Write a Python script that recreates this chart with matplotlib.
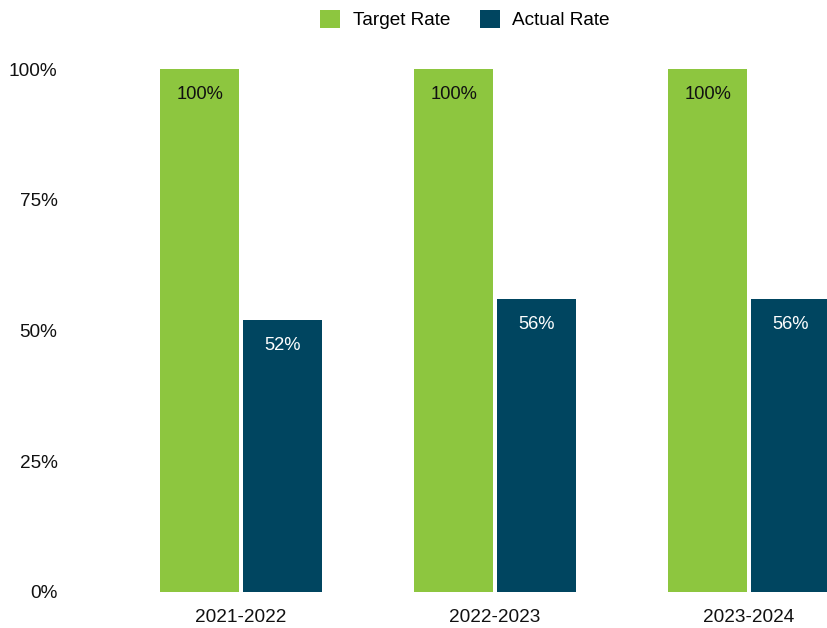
import matplotlib
matplotlib.use("Agg")
import matplotlib.pyplot as plt
import numpy as np

plt.rcParams['font.family'] = ['Liberation Sans', 'DejaVu Sans']

categories = ["2021-2022", "2022-2023", "2023-2024"]
target_rate = [100, 100, 100]
actual_rate = [52, 56, 56]
y_ticks = [0, 25, 50, 75, 100]
y_tick_labels = ["0%", "25%", "50%", "75%", "100%"]

green = "#8DC63F"
navy = "#004560"

fig = plt.figure(figsize=(8.27, 6.28), dpi=100)
ax = fig.add_axes([70/827, 1 - 592/628, 757/827, (592-69)/628])

x = np.arange(len(categories))
w = 0.31
off = 0.163
b1 = ax.bar(x - off, target_rate, w, color=green, label="Target Rate")
b2 = ax.bar(x + off, actual_rate, w, color=navy, label="Actual Rate")

for bars, vals, col in [(b1, target_rate, "#111111"), (b2, actual_rate, "white")]:
    for r, v in zip(bars, vals):
        ax.annotate(f"{v}%", (r.get_x() + r.get_width()/2, v), xytext=(0, -18.5),
                    textcoords="offset points", ha="center", va="center",
                    fontsize=13.2, color=col)

ax.set_xlim((70-241)/254, (827-241)/254)
ax.set_ylim(0, 100)
ax.set_yticks(y_ticks)
ax.set_yticklabels(y_tick_labels)
ax.set_xticks(x)
ax.set_xticklabels(categories)
ax.tick_params(axis="both", length=0, colors="#111111")
ax.tick_params(axis="y", pad=9, labelsize=13.7)
ax.tick_params(axis="x", pad=12.5, labelsize=13.7)
for s in ax.spines.values():
    s.set_visible(False)

fig.legend(handles=[b1, b2], loc="upper center", bbox_to_anchor=(465/827, 1.012),
           ncol=2, frameon=False, fontsize=13.7, handlelength=1.05, handleheight=1.15,
           columnspacing=1.55, handletextpad=0.65)

fig.savefig("out.png", dpi=100)
